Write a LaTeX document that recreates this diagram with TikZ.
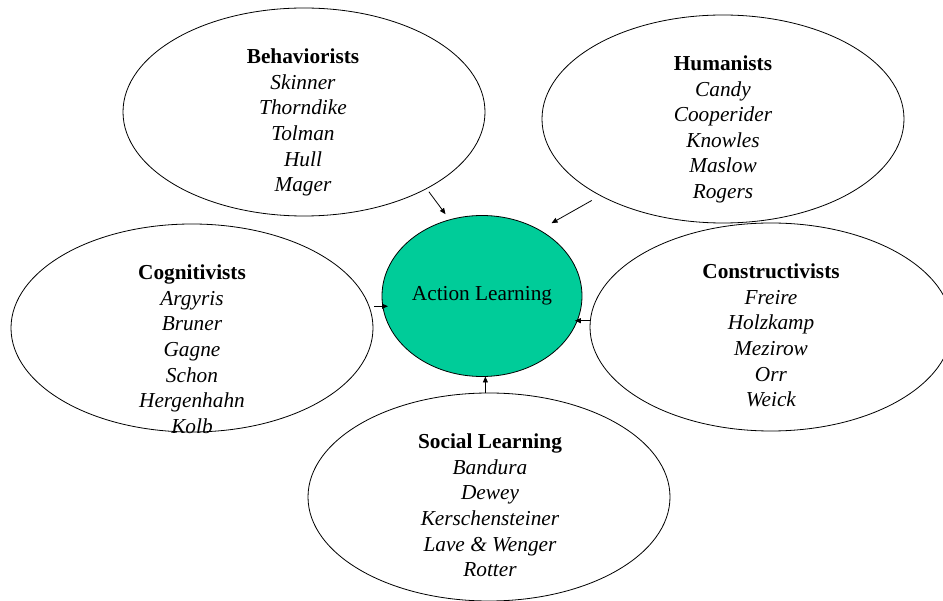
\documentclass[tikz,border=0pt]{standalone}
\usepackage{fontspec}
\setmainfont{Liberation Serif}
\usepackage{tikz}
\usetikzlibrary{shapes.geometric, arrows.meta}

\definecolor{alGreen}{HTML}{00CC99}

\begin{document}
\begin{tikzpicture}[x=1pt, y=-1pt,
    school/.style={draw, ellipse, line width=0.8pt, minimum width=362pt, minimum height=208pt, inner sep=0pt, outer sep=0pt},
    names/.style={anchor=north, align=center, inner sep=0pt, font=\fontsize{21.3}{25.6}\selectfont},
    feed/.style={-{Triangle[length=6pt,width=5pt]}, line width=0.8pt}]
    \useasboundingbox (0,0) rectangle (943,601);

    % Draw the five schools
    \node[school] (beh) at (304,112) {};
    \node[school] (hum) at (723,119) {};
    \node[school] (cog) at (192,328) {};
    \node[school] (con) at (771,327) {};
    \node[school] (soc) at (489,497) {};

    % Draw the centre
    \node[ellipse, draw, fill=alGreen, line width=0.8pt, minimum width=200pt, minimum height=161pt,
          inner sep=0pt, outer sep=0pt, font=\fontsize{21.3}{25.6}\selectfont] (al) at (482,296) {Action Learning};

    % Names in each school
    \node[names] (behNames) at (303,48.8) {\textbf{Behaviorists}\\ \textit{Skinner}\\ \textit{Thorndike}\\ \textit{Tolman}\\ \textit{Hull}\\ \textit{Mager}};
    \node[names] (humNames) at (723,55.5) {\textbf{Humanists}\\ \textit{Candy}\\ \textit{Cooperider}\\ \textit{Knowles}\\ \textit{Maslow}\\ \textit{Rogers}};
    \node[names] (cogNames) at (192,264.8) {\textbf{Cognitivists}\\ \textit{Argyris}\\ \textit{Bruner}\\ \textit{Gagne}\\ \textit{Schon}\\ \textit{Hergenhahn}\\ \textit{Kolb}};
    \node[names] (conNames) at (771,263.8) {\textbf{Constructivists}\\ \textit{Freire}\\ \textit{Holzkamp}\\ \textit{Mezirow}\\ \textit{Orr}\\ \textit{Weick}};
    \node[names] (socNames) at (490,433.8) {\textbf{Social Learning}\\ \textit{Bandura}\\ \textit{Dewey}\\ \textit{Kerschensteiner}\\ \textit{Lave \& Wenger}\\ \textit{Rotter}};

    % Draw arrows into the centre
    \draw[feed, shorten <=4pt, shorten >=7pt] (beh.-32) -- (al.113);
    \draw[feed, shorten <=10pt, shorten >=14pt] (hum.212) -- (al.49);
    \draw[feed, shorten <=5pt, shorten >=-6pt] (cog.7.8) -- (cog.7.8 -| al.west);
    \draw[feed, shorten >=-2pt] (con.178) -- (con.178 -| al.-15);
    \draw[feed] (soc.92) -- (soc.92 |- al.south);

\end{tikzpicture}
\end{document}
